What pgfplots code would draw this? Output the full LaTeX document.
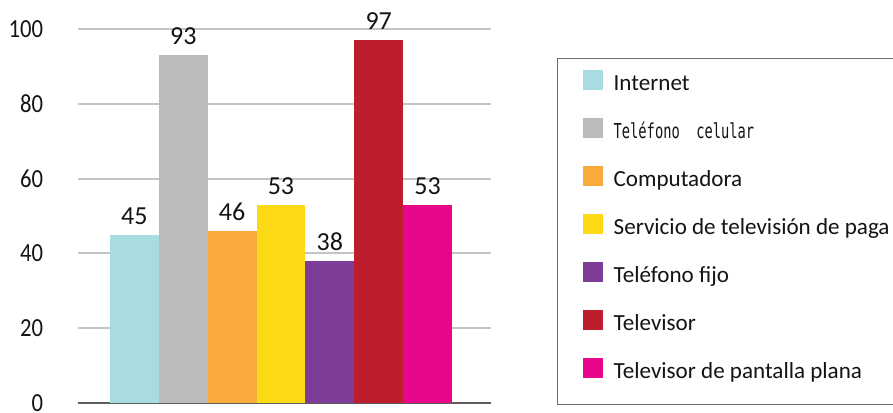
\documentclass[border=0pt]{standalone}
\usepackage{fontspec}
\setmainfont{Carlito}
\newfontfamily\monof{DejaVu Sans Mono}
\usepackage{pgfplots}
\pgfplotsset{compat=1.18}
\definecolor{cInt}{HTML}{A8DCE1}
\definecolor{cCel}{HTML}{BBBBBD}
\definecolor{cCom}{HTML}{F8AA3C}
\definecolor{cSer}{HTML}{FDDA16}
\definecolor{cFij}{HTML}{7D3C97}
\definecolor{cTv}{HTML}{BC1E2D}
\definecolor{cPla}{HTML}{E8078A}
\definecolor{gridc}{HTML}{C4C4C4}
\definecolor{basec}{HTML}{5E5E5E}
\definecolor{legc}{HTML}{6E6E6E}
\definecolor{txt}{HTML}{141414}
\begin{document}
\begin{tikzpicture}
\begin{axis}[
  at={(58.5pt,7.5pt)}, anchor=south west,
  scale only axis, width=309.75pt, height=280.5pt,
  xmin=-1.154, xmax=7.298, ymin=0, ymax=100,
  ybar, bar width=1,
  axis x line*=bottom, axis y line*=left,
  x axis line style={basec, line width=1.5pt},
  y axis line style={draw=none},
  xtick=\empty,
  ytick={0,20,40,60,80,100},
  yticklabel={\scalebox{1}[1.15]{\pgfmathprintnumber{\tick}}},
  ymajorgrids, grid style={gridc, line width=1.5pt},
  major tick length=0pt,
  /pgf/number format/assume math mode=true,
  yticklabel style={anchor=east, inner sep=0pt, xshift=-26pt, font=\fontsize{17}{17}\selectfont, text=txt},
  clip=false,
  nodes near coords,
  nodes near coords style={anchor=south, inner sep=0pt, yshift=7.5pt, font=\fontsize{19.5}{20}\selectfont, text=txt},
  legend image code/.code={\fill[#1, draw=none] (0pt,-1.5pt) rectangle (15pt,13.5pt);},
  legend style={at={(1.1598,0.9225)}, anchor=north west, draw=legc, line width=1pt,
    inner xsep=18.75pt, inner ysep=5pt, row sep=2.5pt, column sep=8.25pt,
    nodes={inner sep=0pt, text height=19.25pt, text depth=14.25pt, font=\fontsize{17.3}{18}\selectfont, text=txt}},
  legend cell align=left,
]
\addplot[fill=cInt, draw=none, bar shift=0pt] coordinates {(0,45)};
\addlegendentry{Internet}
\addplot[fill=cCel, draw=none, bar shift=0pt] coordinates {(1,93)};
\addlegendentry{\scalebox{1}[1.5]{\monof\fontsize{10.3}{12}\selectfont Teléfono\ \ celular}}
\addplot[fill=cCom, draw=none, bar shift=0pt] coordinates {(2,46)};
\addlegendentry{Computadora}
\addplot[fill=cSer, draw=none, bar shift=0pt] coordinates {(3,53)};
\addlegendentry{Servicio de televisión de paga}
\addplot[fill=cFij, draw=none, bar shift=0pt] coordinates {(4,38)};
\addlegendentry{Teléfono fijo}
\addplot[fill=cTv, draw=none, bar shift=0pt] coordinates {(5,97)};
\addlegendentry{Televisor}
\addplot[fill=cPla, draw=none, bar shift=0pt] coordinates {(6,53)};
\addlegendentry{Televisor de pantalla plana}
\end{axis}
\pgfresetboundingbox
\useasboundingbox (0,0) rectangle (669.75pt,309.75pt);
\end{tikzpicture}
\end{document}
